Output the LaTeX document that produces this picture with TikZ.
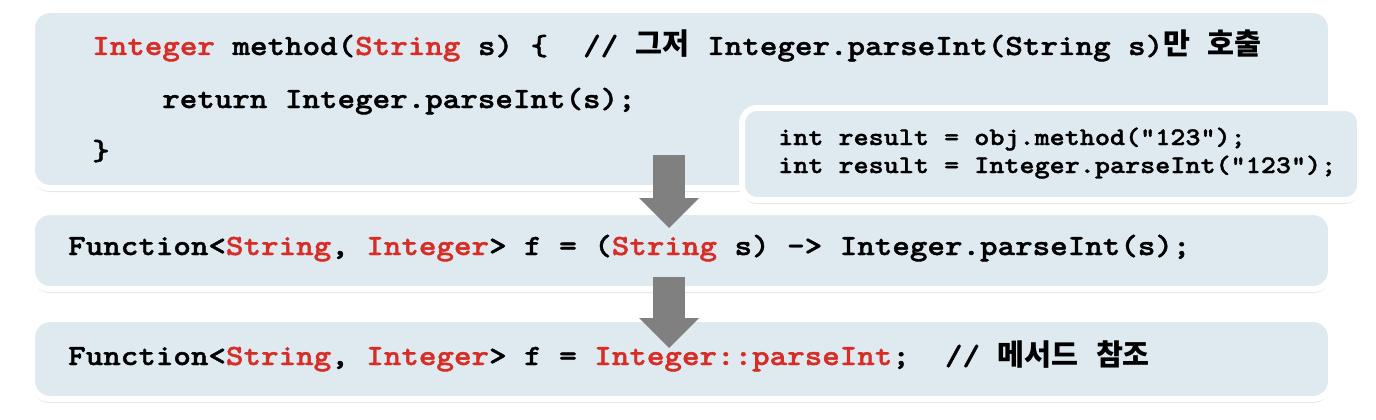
\documentclass[tikz,border=0pt]{standalone}
\usepackage{fontspec}
\newfontfamily\codefont{lmmonolt10-bold}[Extension=.otf, FakeStretch=1.14, FakeBold=1.4]
\newfontfamily\krfont{Noto Sans CJK KR}
\usetikzlibrary{shapes, arrows, arrows.meta, positioning, shadows}

\definecolor{boxfill}{RGB}{223,233,240}
\definecolor{keyred}{RGB}{215,45,38}
\definecolor{arrowgray}{RGB}{128,128,128}

\newcommand{\kw}[1]{\textcolor{keyred}{#1}}
\newcommand{\kor}[1]{{\krfont\bfseries #1}}

\begin{document}
\begin{tikzpicture}[x=1pt, y=-1pt]

\tikzstyle{codebox} = [draw=white, fill=boxfill, line width=6pt, rounded corners=18pt, drop shadow={shadow xshift=0pt, shadow yshift=-4pt, opacity=0.2}]
\tikzstyle{code} = [inner sep=0pt, anchor=base west, font=\codefont\fontsize{29.3}{35}\selectfont]
\tikzstyle{smallcode} = [code, font=\codefont\fontsize{25.2}{30}\selectfont]
\tikzstyle{bigarrow} = [draw=arrowgray, line width=32pt, -{Triangle[width=60pt, length=30pt, line width=0pt]}]

\useasboundingbox (0,0) rectangle (1376,420);

%Creating Boxes
\node [codebox, minimum width=1299pt, minimum height=178pt] (defbox) at (681.5,99) {};
\node [codebox, minimum width=1299pt, minimum height=77pt] (lambdabox) at (681.5,250.5) {};
\node [codebox, minimum width=1299pt, minimum height=80pt] (refbox) at (681.5,359) {};
\node [codebox, rounded corners=15pt, minimum width=618pt, minimum height=92pt] (callbox) at (1051,154) {};

%Creating Code Lines
\node [code] (sig) at (92,55) {\kw{Integer} method(\kw{String} s) \{\ \ // \kor{그저} Integer.parseInt(String s)\kor{만}\ \kor{호출}};
\node [code] (ret) at (162,108) {return Integer.parseInt(s);};
\node [code] (close) at (92,160) {\}};
\node [code] (lambda) at (68,255) {Function<\kw{String}, \kw{Integer}> f = (\kw{String} s) -> Integer.parseInt(s);};
\node [code] (mref) at (68,365) {Function<\kw{String}, \kw{Integer}> f = \kw{Integer::parseInt};\ \ // \kor{메서드}\ \kor{참조}};
\node [smallcode] (call1) at (778,145) {int result = obj.method("123");};
\node [smallcode] (call2) at (778,173) {int result = Integer.parseInt("123");};

%Connecting Boxes
\coordinate (firsttop) at (669,155);
\coordinate (firsttip) at (669,228);
\coordinate (secondtop) at (669,277);
\coordinate (secondtip) at (669,348);
\draw [bigarrow] (firsttop) -- (firsttip);
\draw [bigarrow] (secondtop) -- (secondtip);

\end{tikzpicture}
\end{document}
